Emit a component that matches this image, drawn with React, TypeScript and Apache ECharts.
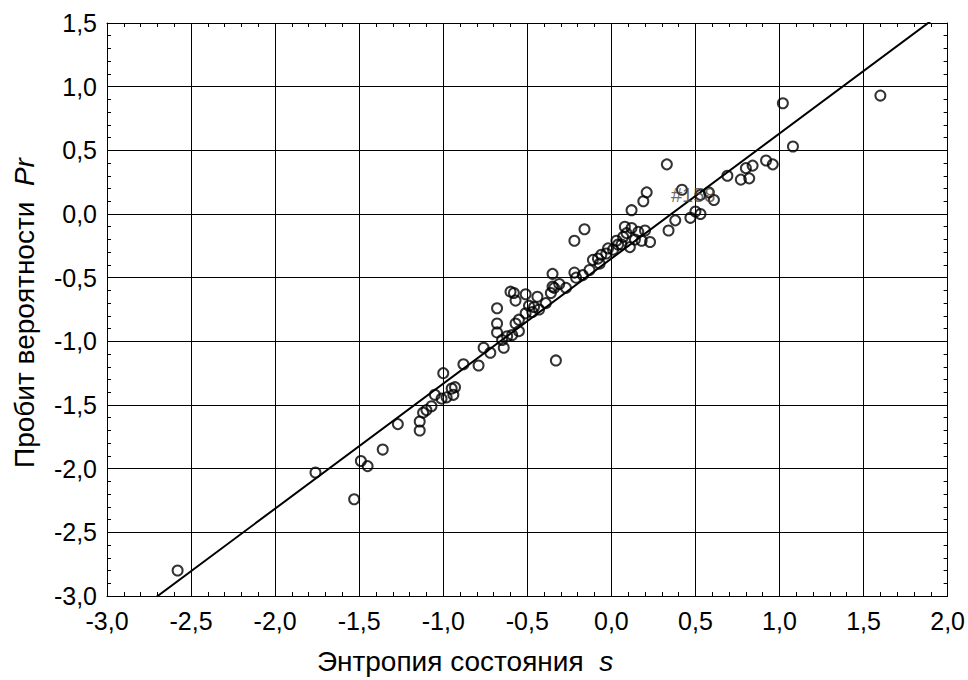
import React, { useEffect, useRef } from 'react';
import * as echarts from 'echarts';

// Entropy of state s (x) and probit of probability Pr (y)
const entropyS = [
  -2.58, -1.76, -1.53, -1.49, -1.45, -1.36, -1.27, -1.14, -1.14, -1.12,
  -1.10, -1.07, -1.05, -1.00, -1.01, -0.98, -0.95, -0.93, -0.94, -0.88,
  -0.79, -0.76, -0.72, -0.68, -0.68, -0.68, -0.65, -0.64, -0.62, -0.60,
  -0.58, -0.57, -0.59, -0.55, -0.55, -0.57, -0.51, -0.51, -0.47, -0.46,
  -0.49, -0.43, -0.44, -0.39, -0.36, -0.35, -0.35, -0.34, -0.31, -0.27,
  -0.33, -0.22, -0.21, -0.17, -0.22, -0.16, -0.13, -0.11, -0.08, -0.07,
  -0.06, -0.03, -0.02, 0.01, 0.03, 0.04, 0.06, 0.07, 0.08, 0.09,
  0.11, 0.12, 0.12, 0.14, 0.16, 0.18, 0.19, 0.20, 0.21, 0.23,
  0.33, 0.34, 0.38, 0.42, 0.47, 0.50, 0.53, 0.53, 0.58, 0.61,
  0.69, 0.77, 0.80, 0.82, 0.84, 0.92, 0.96, 1.02, 1.08, 1.60,
];
const probitPr = [
  -2.80, -2.03, -2.24, -1.94, -1.98, -1.85, -1.65, -1.63, -1.70, -1.56,
  -1.54, -1.51, -1.42, -1.25, -1.45, -1.44, -1.37, -1.36, -1.42, -1.18,
  -1.19, -1.05, -1.09, -0.74, -0.86, -0.93, -0.99, -1.05, -0.96, -0.61,
  -0.62, -0.68, -0.95, -0.92, -0.83, -0.86, -0.63, -0.78, -0.77, -0.73,
  -0.72, -0.75, -0.65, -0.70, -0.62, -0.47, -0.57, -0.58, -0.55, -0.58,
  -1.15, -0.46, -0.50, -0.48, -0.21, -0.12, -0.44, -0.36, -0.35, -0.39,
  -0.32, -0.31, -0.27, -0.28, -0.21, -0.24, -0.24, -0.18, -0.10, -0.15,
  -0.26, -0.11, 0.03, -0.20, -0.14, -0.21, 0.10, -0.13, 0.17, -0.22,
  0.39, -0.13, -0.05, 0.19, -0.03, 0.02, 0.00, 0.15, 0.17, 0.11,
  0.30, 0.27, 0.36, 0.28, 0.38, 0.42, 0.39, 0.87, 0.53, 0.93,
];
const labeledIndex = 83;
const labeledText = '#158';

// Linear fit Pr = a + b*s
const fitIntercept = -0.35;
const fitSlope = 0.982;

const xMin = -3.0;
const xMax = 2.0;
const yMin = -3.0;
const yMax = 1.5;
const tickStep = 0.5;

const xTitle = 'Энтропия состояния  ';
const xTitleItalic = 's';
const yTitle = 'Пробит вероятности  ';
const yTitleItalic = 'Pr';

const FONT = '"Liberation Sans", Arial, sans-serif';

const fmt = (v: number) => {
  const r = Math.round(v * 10) / 10;
  return (Object.is(r, -0) ? 0 : r).toFixed(1).replace('.', ',');
};

export default function App() {
  const ref = useRef<HTMLDivElement>(null);

  useEffect(() => {
    if (!ref.current) return;
    const chart = echarts.init(ref.current, undefined, { renderer: 'svg' });

    const scatterData = entropyS.map((s, i) => {
      const item: any = { value: [s, probitPr[i]] };
      if (i === labeledIndex) {
        item.label = {
          show: true,
          formatter: labeledText,
          position: [-5, 11],
          align: 'left',
          verticalAlign: 'middle',
          fontFamily: FONT,
          fontSize: 20,
          color: '#4a4236',
        };
      }
      return item;
    });

    const fitData = [xMin, xMax].map((s) => [s, fitIntercept + fitSlope * s]);

    const lineBlack = { color: '#000', width: 1 };

    const mainAxisCommon = {
      type: 'value' as const,
      interval: tickStep,
      axisLine: { show: true, onZero: false, lineStyle: lineBlack },
      axisTick: { show: true, inside: true, length: 5, lineStyle: lineBlack },
      minorTick: { show: true, splitNumber: 5, length: 4, lineStyle: lineBlack },
      splitLine: { show: true, lineStyle: { color: '#000', width: 1 } },
      axisLabel: {
        show: true,
        color: '#000',
        fontFamily: FONT,
        fontSize: 25,
        formatter: fmt,
      },
    };
    const mirrorAxisCommon = {
      type: 'value' as const,
      interval: tickStep,
      axisLine: { show: true, onZero: false, lineStyle: lineBlack },
      axisTick: { show: true, inside: true, length: 5, lineStyle: lineBlack },
      minorTick: { show: true, splitNumber: 5, length: 4, lineStyle: lineBlack },
      splitLine: { show: false },
      axisLabel: { show: false },
    };

    const titleRich = {
      a: { fontFamily: FONT, fontSize: 28, fill: '#000', color: '#000' },
      b: { fontFamily: FONT, fontSize: 28, fontStyle: 'italic', fill: '#000', color: '#000' },
    };

    chart.setOption({
      animation: false,
      backgroundColor: '#fff',
      grid: { left: 107, top: 23, right: 20, bottom: 84, containLabel: false },
      xAxis: [
        {
          ...mainAxisCommon,
          position: 'bottom',
          min: xMin,
          max: xMax,
          axisLabel: { ...mainAxisCommon.axisLabel, margin: 12 },
        },
        { ...mirrorAxisCommon, position: 'top', min: xMin, max: xMax },
      ],
      yAxis: [
        {
          ...mainAxisCommon,
          position: 'left',
          min: yMin,
          max: yMax,
          axisLabel: { ...mainAxisCommon.axisLabel, margin: 10 },
        },
        { ...mirrorAxisCommon, position: 'right', min: yMin, max: yMax },
      ],
      series: [
        {
          type: 'line',
          data: fitData,
          xAxisIndex: 0,
          yAxisIndex: 0,
          symbol: 'none',
          clip: true,
          lineStyle: { color: '#000', width: 2 },
          z: 3,
        },
        {
          type: 'scatter',
          data: scatterData,
          xAxisIndex: 0,
          yAxisIndex: 0,
          symbol: 'circle',
          symbolSize: 10,
          itemStyle: {
            color: 'rgba(255,255,255,0)',
            borderColor: '#000',
            borderWidth: 2,
          },
          z: 4,
        },
      ],
      graphic: [
        {
          type: 'text',
          x: 465,
          y: 661,
          style: {
            text: `{a|${xTitle}}{b|${xTitleItalic}}`,
            align: 'center',
            verticalAlign: 'middle',
            rich: titleRich,
          },
        },
        {
          type: 'text',
          x: 24,
          y: 313,
          rotation: Math.PI / 2,
          style: {
            text: `{a|${yTitle}}{b|${yTitleItalic}}`,
            align: 'center',
            verticalAlign: 'middle',
            rich: titleRich,
          },
        },
      ],
    });

    return () => chart.dispose();
  }, []);

  return (
    <div
      ref={ref}
      style={{ position: 'fixed', left: 0, top: 0, width: 968, height: 680, background: '#fff' }}
    />
  );
}
